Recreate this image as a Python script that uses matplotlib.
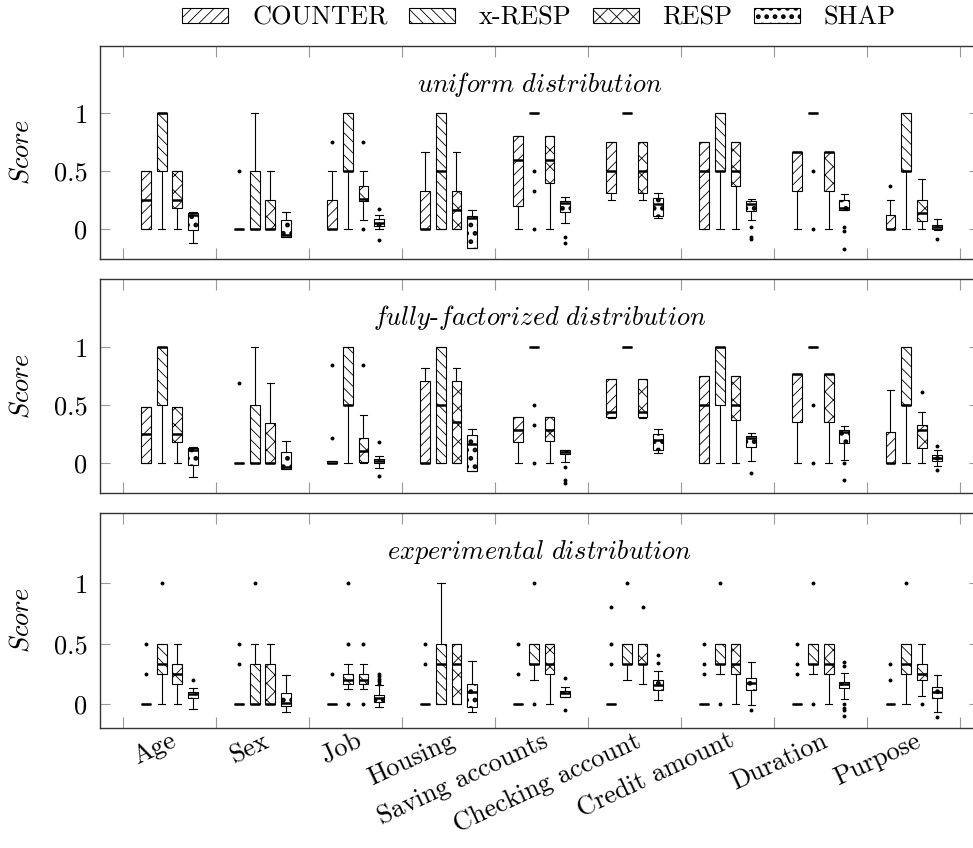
import numpy as np
import matplotlib
matplotlib.use('Agg')
import matplotlib.pyplot as plt
from matplotlib.patches import Patch
from matplotlib.transforms import ScaledTranslation

plt.rcParams['font.family'] = ['cmr10']
plt.rcParams['mathtext.fontset'] = 'cm'
plt.rcParams['axes.formatter.use_mathtext'] = True
plt.rcParams['hatch.linewidth'] = 0.6

features = ['Age', 'Sex', 'Job', 'Housing', 'Saving accounts', 'Checking account',
            'Credit amount', 'Duration', 'Purpose']
methods = ['COUNTER', 'x-RESP', 'RESP', 'SHAP']
hatches = ['///', '\\\\\\', 'xx', '..']
hatch_lw = [0.6, 0.6, 0.6, 2.2]

# each row: (whisker low, q1, median, q3, whisker high), outliers kept separately
uni_counter = [(0, 0, 0.25, 0.5, 0.5), (0, 0, 0, 0, 0), (0, 0, 0, 0.25, 0.5),
               (0, 0, 0, 0.333, 0.667), (0, 0.2, 0.6, 0.8, 0.8), (0.25, 0.31, 0.5, 0.75, 0.75),
               (0, 0, 0.5, 0.75, 0.75), (0, 0.333, 0.667, 0.667, 0.667), (0, 0, 0, 0.125, 0.25)]
uni_counter_out = [[], [0.5], [0.75], [], [], [], [], [], [0.375]]
uni_xresp = [(0, 0.5, 1, 1, 1), (0, 0, 0, 0.5, 1), (0, 0.5, 0.5, 1, 1),
             (0, 0, 0.5, 1, 1), (1, 1, 1, 1, 1), (1, 1, 1, 1, 1),
             (0, 0.5, 0.5, 1, 1), (1, 1, 1, 1, 1), (0, 0.5, 0.5, 1, 1)]
uni_xresp_out = [[], [], [], [], [0.5, 0.333, 0], [], [], [0.5, 0], []]
uni_resp = [(0, 0.18, 0.25, 0.5, 0.5), (0, 0, 0, 0.25, 0.5), (0.08, 0.245, 0.26, 0.37, 0.5),
            (0, 0, 0.167, 0.333, 0.667), (0, 0.4, 0.6, 0.8, 0.8), (0.25, 0.31, 0.5, 0.75, 0.75),
            (0, 0.37, 0.5, 0.75, 0.75), (0, 0.333, 0.667, 0.667, 0.667), (0, 0.067, 0.14, 0.25, 0.434)]
uni_resp_out = [[], [], [0.75, 0], [], [], [], [], [], []]
uni_shap = [(-0.12, -0.01, 0.12, 0.14, 0.15), (-0.07, -0.07, -0.05, 0.08, 0.15),
            (0.0, 0.03, 0.057, 0.086, 0.12), (-0.16, -0.16, 0.1, 0.11, 0.167),
            (0.057, 0.152, 0.23, 0.244, 0.276), (0.095, 0.115, 0.22, 0.267, 0.31),
            (0.08, 0.16, 0.22, 0.24, 0.26), (0.167, 0.167, 0.18, 0.25, 0.3),
            (-0.01, 0, 0.02, 0.037, 0.086)]
uni_shap_out = [[], [], [0.17, -0.09], [], [-0.07, -0.12], [], [0.017, -0.07, -0.086],
                [0.017, -0.012, -0.17], [-0.086]]

ff_counter = [(0, 0, 0.25, 0.483, 0.483), (0, 0, 0, 0, 0), (0, 0, 0.005, 0.02, 0.02),
              (0, 0, 0, 0.71, 0.82), (0, 0.18, 0.29, 0.397, 0.397), (0.39, 0.4, 0.445, 0.724, 0.724),
              (0, 0, 0.5, 0.753, 0.753), (0, 0.353, 0.77, 0.77, 0.77), (0, 0, 0, 0.273, 0.632)]
ff_counter_out = [[], [0.69], [0.85, 0.22], [], [], [], [], [], []]
ff_xresp = [(0, 0.5, 1, 1, 1), (0, 0, 0, 0.5, 1), (0, 0.5, 0.5, 1, 1),
            (0, 0, 0.5, 1, 1), (1, 1, 1, 1, 1), (1, 1, 1, 1, 1),
            (0, 0.5, 1, 1, 1), (1, 1, 1, 1, 1), (0, 0.5, 0.5, 1, 1)]
ff_xresp_out = [[], [], [], [], [0.5, 0.333, 0], [], [], [0.5, 0], []]
ff_resp = [(0, 0.18, 0.25, 0.483, 0.483), (0, 0, 0, 0.345, 0.69), (0, 0.014, 0.11, 0.215, 0.42),
           (0, 0, 0.36, 0.71, 0.82), (0, 0.19, 0.29, 0.397, 0.397), (0.39, 0.4, 0.445, 0.724, 0.724),
           (0, 0.374, 0.5, 0.753, 0.753), (0, 0.353, 0.77, 0.77, 0.77), (0, 0.135, 0.287, 0.328, 0.445)]
ff_resp_out = [[], [], [0.85], [], [], [], [], [], [0.618]]
ff_shap = [(-0.12, -0.01, 0.115, 0.13, 0.144), (-0.05, -0.05, -0.035, 0.1, 0.195),
           (-0.037, 0.006, 0.02, 0.034, 0.063), (-0.07, -0.07, 0.17, 0.245, 0.3),
           (0.014, 0.078, 0.1, 0.115, 0.115), (0.09, 0.115, 0.2, 0.253, 0.3),
           (0.02, 0.138, 0.22, 0.236, 0.26), (0.03, 0.172, 0.27, 0.287, 0.32),
           (-0.023, 0.02, 0.049, 0.069, 0.115)]
ff_shap_out = [[], [], [0.18, -0.11], [], [-0.03, -0.14, -0.17], [], [-0.086], [0, -0.14],
               [0.15, -0.057]]

exp_counter = [(0, 0, 0, 0, 0)] * 9
exp_counter_out = [[0.5, 0.25], [0.5, 0.333], [0.25], [0.5, 0.333], [0.5, 0.25],
                   [0.8, 0.5, 0.333], [0.5, 0.333, 0.25], [0.5, 0.333, 0.25], [0.333, 0.2]]
exp_xresp = [(0, 0.25, 0.333, 0.5, 0.5), (0, 0, 0, 0.333, 0.5), (0.125, 0.17, 0.2, 0.25, 0.333),
             (0, 0, 0.333, 0.5, 1), (0.2, 0.333, 0.333, 0.5, 0.5), (0.2, 0.333, 0.333, 0.5, 0.5),
             (0.25, 0.333, 0.333, 0.5, 0.5), (0.25, 0.333, 0.333, 0.5, 0.5), (0, 0.25, 0.333, 0.5, 0.5)]
exp_xresp_out = [[1], [1], [1, 0.5, 0], [], [1, 0], [1], [1, 0], [1, 0], [1]]
exp_resp = [(0, 0.166, 0.25, 0.333, 0.5), (0, 0, 0, 0.333, 0.5), (0.125, 0.17, 0.2, 0.25, 0.333),
            (0, 0, 0.333, 0.5, 0.5), (0, 0.25, 0.333, 0.5, 0.5), (0.17, 0.333, 0.333, 0.5, 0.5),
            (0, 0.25, 0.333, 0.5, 0.5), (0, 0.25, 0.333, 0.5, 0.5), (0.07, 0.2, 0.25, 0.333, 0.5)]
exp_resp_out = [[], [], [0.5, 0], [], [], [0.8], [], [], [0]]
exp_shap = [(-0.044, 0.047, 0.08, 0.1, 0.13), (-0.066, -0.014, 0.005, 0.088, 0.24),
            (-0.028, 0.02, 0.05, 0.075, 0.157), (-0.064, -0.028, 0.1, 0.17, 0.36),
            (0.06, 0.06, 0.088, 0.11, 0.144), (0.033, 0.12, 0.157, 0.2, 0.27),
            (-0.01, 0.12, 0.177, 0.213, 0.35), (0.04, 0.13, 0.17, 0.185, 0.26),
            (-0.066, 0.047, 0.1, 0.144, 0.24)]
exp_shap_out = [[0.2], [], [0.25, 0.23, 0.21, 0.19, 0.17], [], [0.213, -0.05], [0.406, 0.337],
                [-0.05], [0.35, 0.315, 0.0, -0.03, -0.05, -0.1], [-0.11]]

panels = [
    (r'$\mathit{uni\!form\ distribution}$',
     [(uni_counter, uni_counter_out), (uni_xresp, uni_xresp_out),
      (uni_resp, uni_resp_out), (uni_shap, uni_shap_out)], (-0.26, 1.583)),
    (r'$\mathit{fully}$-$\mathit{factorized\ distribution}$',
     [(ff_counter, ff_counter_out), (ff_xresp, ff_xresp_out),
      (ff_resp, ff_resp_out), (ff_shap, ff_shap_out)], (-0.253, 1.586)),
    (r'$\mathit{experimental\ distribution}$',
     [(exp_counter, exp_counter_out), (exp_xresp, exp_xresp_out),
      (exp_resp, exp_resp_out), (exp_shap, exp_shap_out)], (-0.196, 1.58)),
]


def hatch_width(patch, lw):
    if hasattr(patch, 'set_hatch_linewidth'):
        patch.set_hatch_linewidth(lw)


W, H = 973, 848
fig = plt.figure(figsize=(W / 100, H / 100), dpi=100)
rows = [(45.7, 259.3), (279.3, 492.7), (513.3, 727.7)]
left, right = 100, 979
pos = np.arange(1, len(features) + 1)
offs = (np.arange(4) - 1.5) * 0.168
fs = 19

for i, (title, series, ylim) in enumerate(panels):
    top, bot = rows[i]
    ax = fig.add_axes([left / W, 1 - bot / H, (right - left) / W, (bot - top) / H])
    for k, (box, out) in enumerate(series):
        stats = [dict(whislo=b[0], q1=b[1], med=b[2], q3=b[3], whishi=b[4], fliers=o)
                 for b, o in zip(box, out)]
        bp = ax.bxp(stats, positions=pos + offs[k], widths=0.105, capwidths=0.08,
                    patch_artist=True, manage_ticks=False,
                    boxprops=dict(facecolor='white', edgecolor='black', hatch=hatches[k], lw=0.8),
                    medianprops=dict(color='black', lw=1.8),
                    whiskerprops=dict(color='black', lw=0.8),
                    capprops=dict(color='black', lw=0.8),
                    flierprops=dict(marker='o', markersize=1.8, markerfacecolor='black',
                                    markeredgecolor='black'))
        for b in bp['boxes']:
            hatch_width(b, hatch_lw[k])
    ax.set_xlim(0.253, 9.70)
    ax.set_ylim(*ylim)
    ax.set_yticks([0, 0.5, 1])
    ax.set_yticklabels(['0', '0.5', '1'])
    ax.set_xticks(np.arange(0.5, 10, 1), minor=True)
    if i == 2:
        ax.set_xticks(pos, features, rotation=25, ha='right', va='top',
                      rotation_mode='anchor', fontsize=fs)
        shift = ScaledTranslation(-10 / 100, 0, fig.dpi_scale_trans)
        for lbl in ax.get_xticklabels():
            lbl.set_transform(lbl.get_transform() + shift)
    else:
        ax.set_xticks(pos, [''] * len(pos))
    ax.tick_params(axis='x', which='major', length=0, pad=1)
    ax.tick_params(axis='x', which='minor', direction='in', length=8, top=True,
                   bottom=True, color='#999999', width=0.8)
    ax.tick_params(axis='y', direction='in', length=7, left=True, right=True,
                   color='#999999', width=0.8, labelsize=fs, pad=9)
    for sp in ax.spines.values():
        sp.set_color('#333333')
        sp.set_linewidth(1.0)
    ax.set_ylabel(r'$\mathit{Score}$', fontsize=fs)
    ax.yaxis.set_label_coords(-66 / (right - left), 0.5)
    ax.text(0.5, 0.82, title, transform=ax.transAxes, ha='center', va='center', fontsize=fs)

handles = [Patch(facecolor='white', edgecolor='black', hatch=h, lw=0.8) for h in hatches]
leg = fig.legend(handles, methods, loc='center', bbox_to_anchor=(539 / W, 1 - 18 / H), ncol=4,
                 frameon=False, fontsize=fs, handlelength=1.75, handleheight=0.45,
                 handletextpad=0.9, columnspacing=0.8)
for p, lw in zip(leg.get_patches(), hatch_lw):
    hatch_width(p, lw)

fig.savefig('out.png', dpi=100)
